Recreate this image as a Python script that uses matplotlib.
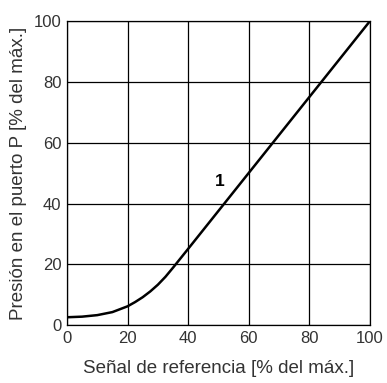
import matplotlib.pyplot as plt

# datos
senal = [0, 5, 10, 15, 20, 22.5, 25, 27.5, 30, 32.5, 35, 37.5, 40, 100]
presion = [2.6, 2.8, 3.3, 4.3, 6.2, 7.6, 9.2, 11.1, 13.3, 15.9, 18.9, 22.0, 25.1, 100]
ticks = [0, 20, 40, 60, 80, 100]

plt.rcParams['font.family'] = ['Liberation Sans', 'DejaVu Sans']

fig = plt.figure(figsize=(3.87, 3.83), dpi=100)
ax = fig.add_axes([0.173, 0.151, 0.783, 0.794])

ax.plot(senal, presion, color='black', lw=1.8, solid_capstyle='butt')
ax.text(50.5, 47.4, '1', fontsize=12.5, fontweight='bold', ha='center', va='center')

ax.set_xlim(0, 100)
ax.set_ylim(0, 100)
ax.set_xticks(ticks)
ax.set_yticks(ticks)
ax.grid(True, color='black', lw=0.9)
ax.set_axisbelow(True)
ax.tick_params(length=0, pad=4, labelsize=12, colors='#333333')
for s in ax.spines.values():
    s.set_linewidth(0.9)

ax.set_xlabel('Señal de referencia [% del máx.]', fontsize=13.5, color='#333333', labelpad=10)
ax.set_ylabel('Presión en el puerto P [% del máx.]', fontsize=13.5, color='#333333', labelpad=5)

fig.savefig('out.png', dpi=100)
